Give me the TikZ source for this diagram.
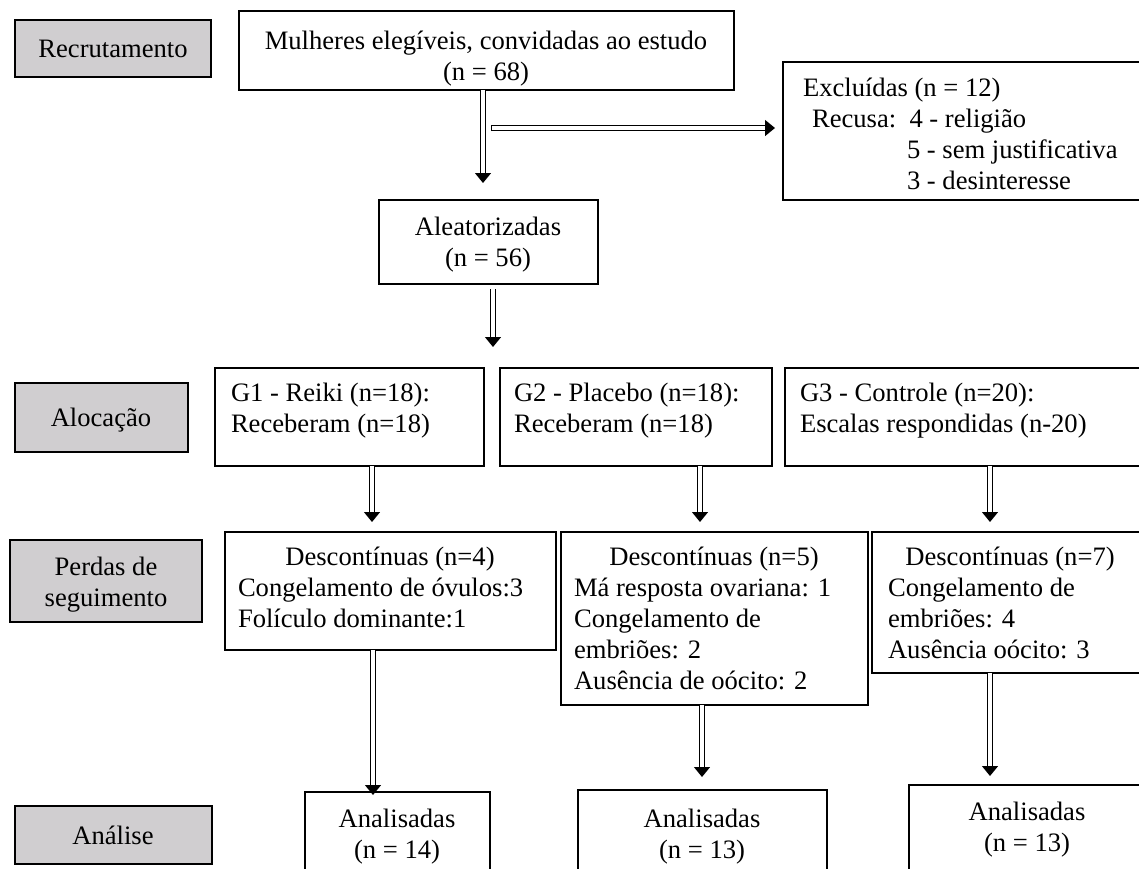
\documentclass[tikz,border=0pt]{standalone}
\usepackage{fontspec}
\setmainfont{Liberation Serif}
\usetikzlibrary{arrows.meta}
\definecolor{boxgray}{RGB}{208,206,208}
\tikzset{
  x=1pt, y=-1pt,
  frame/.style={draw=black, line width=1.6pt, fill=white, inner sep=0pt, outer sep=0pt},
  graybox/.style={frame, fill=boxgray},
  txt/.style={inner sep=0pt, outer sep=0pt, font=\fontsize{26.6}{31}\selectfont, align=left},
  ctxt/.style={txt, align=center},
  flow/.style={double=white, double distance=3.4pt, line width=1.3pt, -{Triangle[length=10pt,width=16pt]}},
}
\newcommand\bx[6]{\node[#6, minimum width={#4-#2}, minimum height={#5-#3}] (#1) at ({(#2+#4)/2},{(#3+#5)/2}) {};}
\begin{document}
\begin{tikzpicture}
\useasboundingbox (0,0) rectangle (1139,868);
\clip (0,0) rectangle (1139,868);
% stage labels
\bx{rec}{15}{20}{211}{77}{graybox}
\bx{aloc}{15}{383}{188}{452}{graybox}
\bx{perd}{10}{540}{202}{622}{graybox}
\bx{anal}{15}{806}{212}{864}{graybox}
\node[ctxt, anchor=base] (rect) at (113,57) {Recrutamento};
\node[ctxt, anchor=base] (aloct) at (101,426) {Alocação};
\node[ctxt, anchor=base] (perdt) at (106,606) {Perdas de\\seguimento};
\node[ctxt, anchor=base] (analt) at (113,844) {Análise};
% boxes
\bx{top}{239}{11}{734}{90}{frame}
\bx{excl}{783}{62}{1160}{200}{frame}
\bx{alea}{379}{200}{598}{284}{frame}
\bx{g1}{215}{368}{484}{466}{frame}
\bx{g2}{500}{368}{772}{466}{frame}
\bx{g3}{785}{368}{1160}{466}{frame}
\bx{d1}{225}{532}{556}{650}{frame}
\bx{d2}{561}{532}{868}{705}{frame}
\bx{d3}{872}{532}{1148}{673}{frame}
\bx{an1}{305}{792}{490}{880}{frame}
\bx{an2}{578}{790}{827}{880}{frame}
\bx{an3}{909}{785}{1160}{880}{frame}
% texts (base anchor = baseline of the last line)
\node[ctxt, anchor=base] (topt) at (486,80) {Mulheres elegíveis, convidadas ao estudo\\(n = 68)};
\node[txt, anchor=base west] (exclt1) at (803,96) {Excluídas (n = 12)};
\node[txt, anchor=base west] (exclt2) at (812,127) {Recusa:\ \ 4 - religião};
\node[txt, anchor=base west] (exclt3) at (907,158) {5 - sem justificativa};
\node[txt, anchor=base west] (exclt4) at (907,189) {3 - desinteresse};
\node[ctxt, anchor=base] (aleat) at (488,266) {Aleatorizadas\\(n = 56)};
\node[txt, anchor=base west] (g1t) at (231,432) {G1 - Reiki (n=18):\\Receberam (n=18)};
\node[txt, anchor=base west] (g2t) at (514,432) {G2 - Placebo (n=18):\\Receberam (n=18)};
\node[txt, anchor=base west] (g3t) at (800,432) {G3 - Controle (n=20):\\Escalas respondidas (n-20)};
\node[ctxt, anchor=base] (d1h) at (390,565) {Descontínuas (n=4)};
\node[txt, anchor=base west] (d1t) at (238,627) {Congelamento de óvulos:3\\Folículo dominante:1};
\node[ctxt, anchor=base] (d2h) at (714,565) {Descontínuas (n=5)};
\node[txt, anchor=base west] (d2t) at (574,689) {Má resposta ovariana: 1\\Congelamento de\\embriões: 2\\Ausência de oócito: 2};
\node[ctxt, anchor=base] (d3h) at (1010,565) {Descontínuas (n=7)};
\node[txt, anchor=base west] (d3t) at (888,658) {Congelamento de\\embriões: 4\\Ausência oócito: 3};
\node[ctxt, anchor=base] (an1t) at (397,858) {Analisadas\\(n = 14)};
\node[ctxt, anchor=base] (an2t) at (702,858) {Analisadas\\(n = 13)};
\node[ctxt, anchor=base] (an3t) at (1027,851) {Analisadas\\(n = 13)};
% arrow reference coordinates
\coordinate (ax0) at (483,183);
\coordinate (hs) at (491,128);
\coordinate (ax1) at (493,347);
\coordinate (x1) at (372,0);
\coordinate (x2) at (700,0);
\coordinate (x3) at (990,0);
\coordinate (e1) at (373,795);
\coordinate (e2) at (702,777);
\coordinate (e3) at (990,776);
% connectors
\draw[flow] (top.south -| ax0) -- (ax0);
\draw[flow, {Bar[width=6pt,line width=1.3pt]}-{Triangle[length=10pt,width=16pt]}, shorten >=8pt] (hs) -- (excl.west |- hs);
\draw[flow, shorten <=5pt] (alea.south -| ax1) -- (ax1);
\draw[flow, shorten >=10pt] (g1.south -| x1) -- (d1.north -| x1);
\draw[flow, shorten >=10pt] (g2.south -| x2) -- (d2.north -| x2);
\draw[flow, shorten >=10pt] (g3.south -| x3) -- (d3.north -| x3);
\draw[flow] (d1.south -| e1) -- (e1);
\draw[flow] (d2.south -| e2) -- (e2);
\draw[flow] (d3.south -| e3) -- (e3);
\end{tikzpicture}
\end{document}
